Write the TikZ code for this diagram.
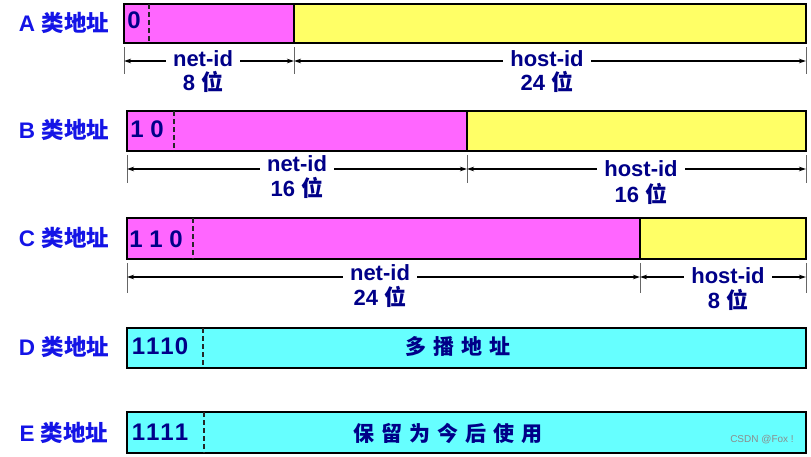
\documentclass[tikz,border=0pt]{standalone}
\usepackage{fontspec}
\setmainfont{Liberation Sans}
\newfontfamily\cjk{Noto Sans CJK SC}
\usetikzlibrary{arrows.meta}
\definecolor{pinkf}{HTML}{FF66FF}
\definecolor{yelf}{HTML}{FFFF66}
\definecolor{cyanf}{HTML}{66FFFF}
\definecolor{navyt}{HTML}{000088}
\definecolor{lbluet}{HTML}{1414E6}
\begin{document}
\begin{tikzpicture}[x=1pt,y=-1pt,
  part/.style={draw=black, line width=1.6pt, anchor=north west, inner sep=0pt, outer sep=0pt},
  bits/.style={text=navyt, font=\bfseries\fontsize{24}{24}\selectfont, inner sep=0pt},
  lbl/.style={text=navyt, font=\bfseries\fontsize{22}{22}\selectfont, fill=white, inner xsep=7pt, inner ysep=1pt},
  sub/.style={text=navyt, font=\bfseries\fontsize{22}{22}\selectfont, inner sep=0pt},
  cls/.style={text=lbluet, font=\bfseries\fontsize{22.5}{22.5}\selectfont, inner sep=0pt},
  divline/.style={line width=1.3pt, dash pattern=on 5pt off 3pt, draw=black!85},
  tickline/.style={draw=black!60, line width=0.9pt},
  dim/.style={{Stealth[length=7pt,width=4.5pt]}-{Stealth[length=7pt,width=4.5pt]}, line width=1.1pt},
]
\useasboundingbox (0,0) rectangle (811,456);

% ---------- A ----------
\node[cls] (Acls) at (64,23) {A {\cjk 类地址}};
\node[part, fill=pinkf, minimum width=170pt, minimum height=39pt] (Anet) at (124,4) {};
\node[part, fill=yelf, minimum width=512pt, minimum height=39pt] (Ahost) at (294,4) {};
\draw[divline] ([xshift=25pt]Anet.north west) -- ([xshift=25pt]Anet.south west);
\node[bits] (Abits) at (134,20) {0};
\coordinate (At1) at (124,47); \coordinate (Ab1) at (124,74);
\coordinate (At2) at (294,47); \coordinate (Ab2) at (294,74);
\coordinate (At3) at (806,47); \coordinate (Ab3) at (806,74);
\draw[tickline] (At1) -- (Ab1);
\draw[tickline] (At2) -- (Ab2);
\draw[tickline] (At3) -- (Ab3);
\coordinate (Aa1) at (124,61); \coordinate (Aa2) at (294,61); \coordinate (Aa3) at (806,61);
\draw[dim] (Aa1) -- (Aa2);
\draw[dim] (Aa2) -- (Aa3);
\node[lbl] (Anetl) at (203,59) {net-id};
\node[sub] (Anetb) at (203,82) {8 {\cjk 位}};
\node[lbl] (Ahostl) at (547,59) {host-id};
\node[sub] (Ahostb) at (547,82) {24 {\cjk 位}};

% ---------- B ----------
\node[cls] (Bcls) at (64,130) {B {\cjk 类地址}};
\node[part, fill=pinkf, minimum width=340pt, minimum height=40pt] (Bnet) at (127,111) {};
\node[part, fill=yelf, minimum width=339pt, minimum height=40pt] (Bhost) at (467,111) {};
\draw[divline] ([xshift=47pt]Bnet.north west) -- ([xshift=47pt]Bnet.south west);
\node[bits] (Bbits) at (147,129) {1 0};
\coordinate (Bt1) at (127,155); \coordinate (Bb1) at (127,183);
\coordinate (Bt2) at (467,155); \coordinate (Bb2) at (467,183);
\coordinate (Bt3) at (806,155); \coordinate (Bb3) at (806,183);
\draw[tickline] (Bt1) -- (Bb1);
\draw[tickline] (Bt2) -- (Bb2);
\draw[tickline] (Bt3) -- (Bb3);
\coordinate (Ba1) at (127,169); \coordinate (Ba2) at (467,169); \coordinate (Ba3) at (806,169);
\draw[dim] (Ba1) -- (Ba2);
\draw[dim] (Ba2) -- (Ba3);
\node[lbl] (Bnetl) at (297,164) {net-id};
\node[sub] (Bnetb) at (297,188) {16 {\cjk 位}};
\node[lbl] (Bhostl) at (641,169) {host-id};
\node[sub] (Bhostb) at (641,194) {16 {\cjk 位}};

% ---------- C ----------
\node[cls] (Ccls) at (64,238) {C {\cjk 类地址}};
\node[part, fill=pinkf, minimum width=513pt, minimum height=41pt] (Cnet) at (127,218) {};
\node[part, fill=yelf, minimum width=166pt, minimum height=41pt] (Chost) at (640,218) {};
\draw[divline] ([xshift=66pt]Cnet.north west) -- ([xshift=66pt]Cnet.south west);
\node[bits] (Cbits) at (156,239) {1 1 0};
\coordinate (Ct1) at (127,263); \coordinate (Cb1) at (127,293);
\coordinate (Ct2) at (640,263); \coordinate (Cb2) at (640,293);
\coordinate (Ct3) at (806,263); \coordinate (Cb3) at (806,293);
\draw[tickline] (Ct1) -- (Cb1);
\draw[tickline] (Ct2) -- (Cb2);
\draw[tickline] (Ct3) -- (Cb3);
\coordinate (Ca1) at (127,277); \coordinate (Ca2) at (640,277); \coordinate (Ca3) at (806,277);
\draw[dim] (Ca1) -- (Ca2);
\draw[dim] (Ca2) -- (Ca3);
\node[lbl] (Cnetl) at (380,273) {net-id};
\node[sub] (Cnetb) at (380,297) {24 {\cjk 位}};
\node[lbl] (Chostl) at (728,276) {host-id};
\node[sub] (Chostb) at (728,300) {8 {\cjk 位}};

% ---------- D ----------
\node[cls] (Dcls) at (64,347) {D {\cjk 类地址}};
\node[part, fill=cyanf, minimum width=679pt, minimum height=40pt] (Dbox) at (127,328) {};
\draw[divline] ([xshift=76pt]Dbox.north west) -- ([xshift=76pt]Dbox.south west);
\node[bits] (Dbits) at (160,346) {1\kern1pt1\kern1pt1\kern1pt0};
\node[sub, font=\cjk\bfseries\fontsize{21}{21}\selectfont] (Dtxt) at (458,347) {多\hspace{7pt}播\hspace{7pt}地\hspace{7pt}址};

% ---------- E ----------
\node[cls] (Ecls) at (64,433) {E {\cjk 类地址}};
\node[part, fill=cyanf, minimum width=679pt, minimum height=41pt] (Ebox) at (127,412) {};
\draw[divline] ([xshift=77pt]Ebox.north west) -- ([xshift=77pt]Ebox.south west);
\node[bits] (Ebits) at (160,432) {1\kern1pt1\kern1pt1\kern1pt1};
\node[sub, font=\cjk\bfseries\fontsize{21}{21}\selectfont] (Etxt) at (448,433) {保\hspace{7pt}留\hspace{7pt}为\hspace{7pt}今\hspace{7pt}后\hspace{7pt}使\hspace{7pt}用};

% watermark
\node[text=black!45, font=\fontsize{10}{10}\selectfont, inner sep=0pt] (wm) at (762,440) {CSDN @Fox !};
\end{tikzpicture}
\end{document}
